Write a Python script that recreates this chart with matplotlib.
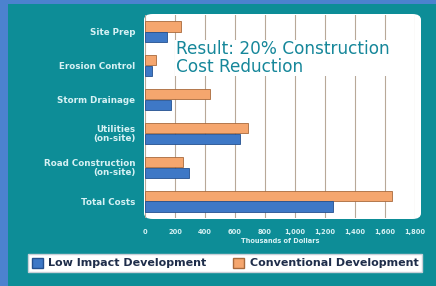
import numpy as np
import matplotlib
matplotlib.use("Agg")
import matplotlib.pyplot as plt
from matplotlib.patches import FancyBboxPatch, Rectangle, Patch

# Data (thousands of dollars)
categories = ['Site Prep', 'Erosion Control', 'Storm Drainage',
              'Utilities\n(on-site)', 'Road Construction\n(on-site)', 'Total Costs']
lid_costs = [145, 45, 175, 630, 295, 1255]
conv_costs = [240, 75, 430, 685, 250, 1645]
x_ticks = [0, 200, 400, 600, 800, 1000, 1200, 1400, 1600, 1800]
x_tick_labels = ['0', '200', '400', '600', '800', '1,000', '1,200', '1,400', '1,600', '1,800']

teal = '#0d8d97'
blue_border = '#4c82cf'
lid_col = '#3e78c6'
conv_col = '#f5a66e'
label_col = '#d6f1f4'

fig = plt.figure(figsize=(4.36, 2.86), dpi=100, facecolor=teal)

# blue frame on top and left
fig.patches.append(Rectangle((0, 0), 8 / 436, 1, transform=fig.transFigure,
                             facecolor=blue_border, edgecolor='none', zorder=-2))
fig.patches.append(Rectangle((0, 1 - 4 / 286), 1, 4 / 286, transform=fig.transFigure,
                             facecolor=blue_border, edgecolor='none', zorder=-2))

# white plot panel with rounded corners
fig.patches.append(FancyBboxPatch((144 / 436, 1 - 219 / 286), 277 / 436, 205 / 286,
                                  boxstyle='round,pad=0,rounding_size=0.02',
                                  transform=fig.transFigure, facecolor='white',
                                  edgecolor='none', zorder=-1))

ax = fig.add_axes([145 / 436, 1 - 218 / 286, 270 / 436, 203 / 286])
ax.set_facecolor('none')
y = np.arange(len(categories))
h = 0.3
ax.barh(y - 0.16, conv_costs, height=h, color=conv_col, edgecolor='#a8693c', linewidth=0.6, zorder=3)
ax.barh(y + 0.16, lid_costs, height=h, color=lid_col, edgecolor='#24508f', linewidth=0.6, zorder=3)
ax.set_ylim(len(categories) - 0.5, -0.5)
ax.set_xlim(0, 1800)

ax.set_xticks(x_ticks)
ax.set_xticklabels(x_tick_labels, fontsize=4.8, color=label_col, fontweight='bold')
ax.set_yticks(y)
ax.set_yticklabels(categories, fontsize=6.3, color=label_col, fontweight='bold', linespacing=0.95)
ax.tick_params(length=0, pad=7)
ax.tick_params(axis='x', pad=8)
ax.grid(axis='x', color='#b8a898', linewidth=0.8, zorder=1)
for s in ax.spines.values():
    s.set_visible(False)
ax.set_xlabel('Thousands of Dollars', fontsize=4.8, color=label_col, fontweight='bold', labelpad=2)

ax.text(0.115, 0.875, 'Result: 20% Construction\nCost Reduction', transform=ax.transAxes,
        fontsize=12.2, color='#16879a', va='top', ha='left', linespacing=0.95,
        bbox=dict(facecolor='white', edgecolor='none', pad=0.5), zorder=4)

handles = [Patch(facecolor=lid_col, edgecolor='#24508f', label='Low Impact Development'),
           Patch(facecolor=conv_col, edgecolor='#a8693c', label='Conventional Development')]
leg = fig.legend(handles=handles, loc='center', bbox_to_anchor=(225 / 436, 1 - 263 / 286),
                 ncol=2, fontsize=8, frameon=True, fancybox=False, edgecolor='#c8d0d8',
                 framealpha=1, handlelength=1.0, handleheight=1.0, columnspacing=2.4,
                 borderpad=0.3, handletextpad=0.5)
for t in leg.get_texts():
    t.set_color('#1e2d4a')
    t.set_fontweight('bold')

plt.savefig('out.png', dpi=100, facecolor=teal)
